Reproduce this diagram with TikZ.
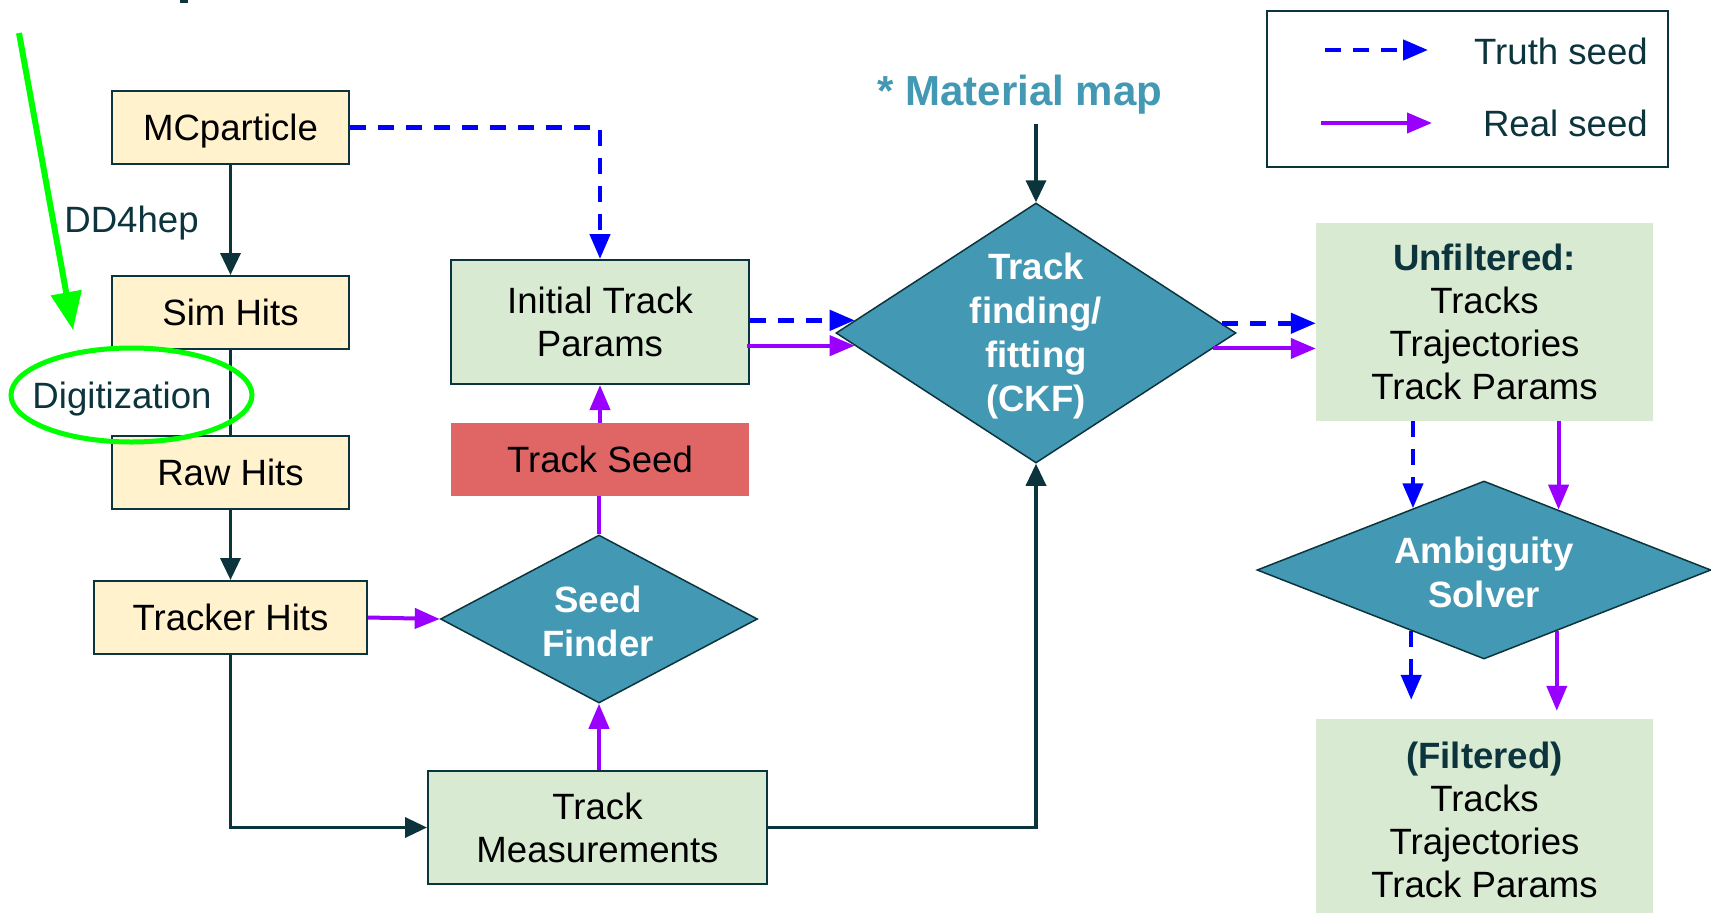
\documentclass[tikz,border=0pt]{standalone}
\usepackage{fontspec}
\setmainfont{Liberation Sans}
\usetikzlibrary{arrows.meta,shapes.geometric}
\definecolor{dk}{HTML}{0C343D}
\definecolor{yel}{HTML}{FFF2CC}
\definecolor{grn}{HTML}{D9EAD3}
\definecolor{tl}{HTML}{4398B4}
\definecolor{red}{HTML}{E06666}
\definecolor{blu}{HTML}{0000FF}
\definecolor{purp}{HTML}{9900FF}
\definecolor{lime}{HTML}{00FF00}
\begin{document}
\begin{tikzpicture}[x=1pt,y=-1pt,
  base/.style={font=\fontsize{36.6}{43}\selectfont, align=center, inner sep=0pt},
  oneline/.style={text height=26.7pt, text depth=0pt},
  ybox/.style={base, oneline, rectangle, draw=dk, line width=2pt, fill=yel},
  gbox/.style={base, rectangle, draw=dk, line width=2pt, fill=grn},
  pbox/.style={base, rectangle, fill=grn},
  rbox/.style={base, oneline, rectangle, fill=red},
  dia/.style={diamond, draw=dk, line width=1.5pt, fill=tl, inner sep=0pt},
  dtext/.style={base, text=white, font=\fontsize{36.6}{44}\selectfont\bfseries},
  dklbl/.style={base, oneline, text=dk},
  dkline/.style={draw=dk, line width=3.5pt},
  dkarrow/.style={dkline, -{Triangle[length=22pt,width=20pt]}},
  truth/.style={draw=blu, line width=4.5pt, dash pattern=on 16pt off 12pt, -{Triangle[length=25pt,width=20pt]}},
  real/.style={draw=purp, line width=4pt, -{Triangle[length=25pt,width=20pt]}},
  realline/.style={draw=purp, line width=4pt},
  greenarrow/.style={draw=lime, line width=6pt, -{Triangle[length=38pt,width=30pt]}},
]
\useasboundingbox (0,0) rectangle (1711,913);
\fill[white] (0,0) rectangle (1711,913);
\fill[dk] (180,0) rectangle (188,3);

% left column
\node[ybox, minimum width=237pt, minimum height=73pt] (mc) at (230.5,127.5) {MCparticle};
\node[ybox, minimum width=237pt, minimum height=73pt] (sim) at (230.5,312.5) {Sim Hits};
\node[ybox, minimum width=237pt, minimum height=73pt] (raw) at (230.5,472.5) {Raw Hits};
\node[ybox, minimum width=273pt, minimum height=73pt] (trk) at (230.5,617.5) {Tracker Hits};
\node[dklbl] (dd4) at (131.5,219) {DD4hep};

% middle column
\node[gbox, minimum width=298pt, minimum height=124pt] (init) at (600,322) {Initial Track\\Params};
\node[rbox, minimum width=298pt, minimum height=73pt] (seed) at (600,459.5) {Track Seed};
\node[dia, minimum width=317pt, minimum height=168pt] (sf) at (599,619) {};
\node[dtext] (sft) at (598,621) {Seed\\Finder};
\node[gbox, minimum width=339pt, minimum height=113pt] (meas) at (597.5,827.5) {Track\\Measurements};

% CKF
\node[dia, minimum width=400pt, minimum height=260pt] (ckf) at (1036,333) {};
\node[dtext] (ckft) at (1036,336) {Track\\finding/\\fitting\\(CKF)};
\node[base, text=tl, font=\fontsize{42}{50}\selectfont\bfseries, text height=30pt, text depth=0pt] (mat) at (1020,90) {* Material map};
\coordinate (matend) at (1036,124);

% right column
\node[pbox, minimum width=337pt, minimum height=198pt] (unf) at (1484.5,322) {\textcolor{dk}{\bfseries Unfiltered:}\\Tracks\\Trajectories\\Track Params};
\node[dia, minimum width=454pt, minimum height=178pt] (amb) at (1484,570) {};
\node[dtext] (ambt) at (1484,572) {Ambiguity\\Solver};
\node[pbox, minimum width=337pt, minimum height=201pt] (fil) at (1484.5,819.5) {\textcolor{dk}{\bfseries (Filtered)}\\Tracks\\Trajectories\\Track Params};

% legend
\node[rectangle, draw=dk, line width=2pt, minimum width=401pt, minimum height=156pt, inner sep=0pt] (leg) at (1467.5,89) {};
\coordinate (lt1) at (1325,50);
\coordinate (lt2) at (1428,50);
\coordinate (lr1) at (1321,123);
\coordinate (lr2) at (1432,123);
\draw[truth] (lt1) -- (lt2);
\draw[real] (lr1) -- (lr2);
\node[dklbl, anchor=east] (ltt) at (1648,51) {Truth seed};
\node[dklbl, anchor=east] (lrt) at (1648,123) {Real seed};

% dark connectors
\draw[dkarrow] (mc.south) -- (sim.north);
\draw[dkline] (sim.south) -- (raw.north);
\draw[dkarrow] (raw.south) -- (trk.north);
\draw[dkarrow] (trk.south) |- (meas.west);
\draw[dkarrow] (meas.east) -| (ckf.south);
\draw[dkarrow] (matend) -- (ckf.north);

% truth seed connectors
\draw[truth] (mc.east) -| (init.north);
\draw[truth] (init.east |- ckf.176.56) -- (ckf.176.56);
\draw[truth] (ckf.3.44) -- (ckf.3.44 -| unf.west);
\draw[truth] (unf.south -| amb.139.7) -- (amb.139.7);
\draw[truth, shorten >=19pt] (amb.220.2) -- (amb.220.2 |- fil.north);

% real seed connectors
\draw[real] (trk.east) -- (sf.west);
\draw[real] (sf.south |- meas.north) -- (sf.south);
\draw[realline] (sf.north) -- (sf.north |- seed.south);
\draw[real] (seed.north) -- (init.south);
\draw[real] ([xshift=-3pt]init.east |- ckf.184.48) -- (ckf.184.48);
\draw[real] (ckf.355.87) -- (ckf.355.87 -| unf.west);
\draw[real] (unf.south -| amb.39.6) -- (amb.39.6);
\draw[real, shorten >=8pt] (amb.320.4) -- (amb.320.4 |- fil.north);

% annotation
\coordinate (g1) at (19,33);
\coordinate (g2) at (73,330);
\draw[greenarrow] (g1) -- (g2);
\node[dklbl] (dig) at (122,395) {Digitization};
\draw[draw=lime, line width=5pt] (131.5,395) ellipse [x radius=120.5pt, y radius=47pt];
\end{tikzpicture}
\end{document}
